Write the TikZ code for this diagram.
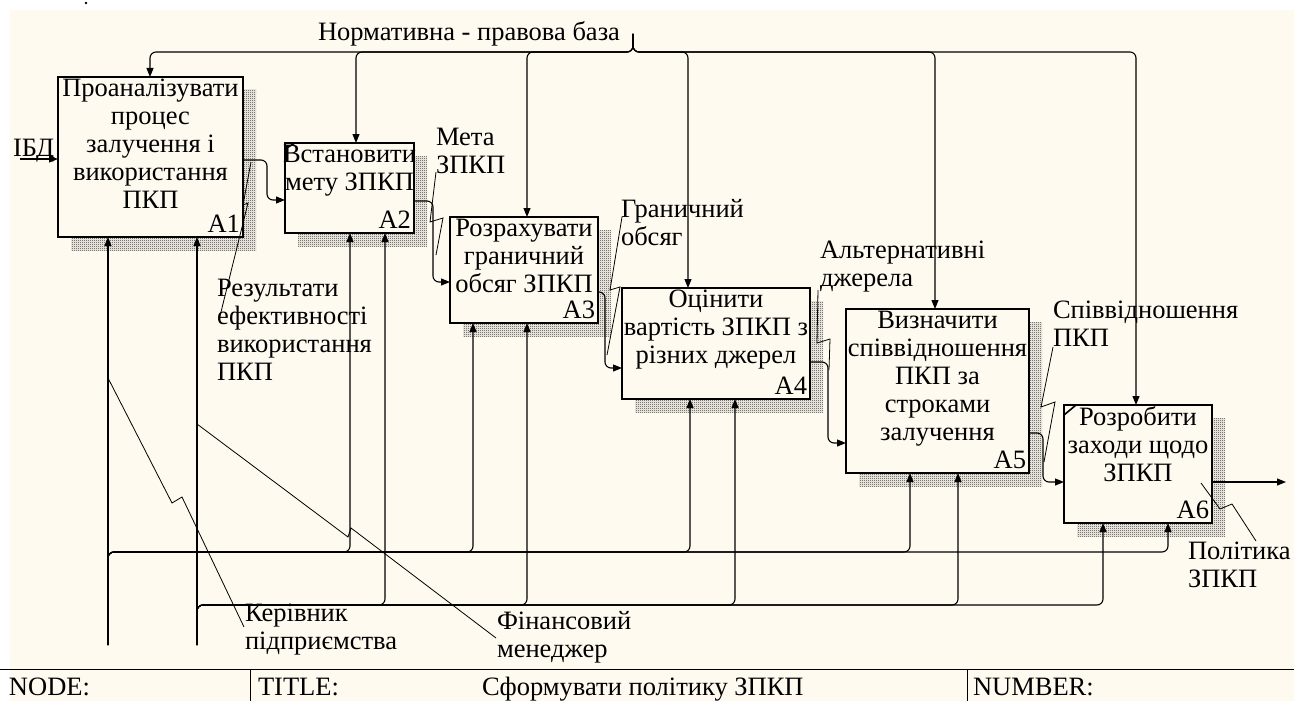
\documentclass[tikz,border=0pt]{standalone}
\usepackage{fontspec}
\setmainfont{Liberation Serif}
\usetikzlibrary{arrows.meta,patterns}
\definecolor{cream}{HTML}{FFFAF0}
\pgfdeclarepatternformonly{checker}{\pgfpointorigin}{\pgfpoint{2pt}{2pt}}{\pgfpoint{2pt}{2pt}}{%
  \pgfpathrectangle{\pgfpointorigin}{\pgfpoint{1pt}{1pt}}%
  \pgfpathrectangle{\pgfpoint{1pt}{1pt}}{\pgfpoint{1pt}{1pt}}%
  \pgfusepath{fill}}
\begin{document}
\begin{tikzpicture}[x=1pt,y=-1pt,
  every node/.style={font=\fontsize{26.5}{28}\selectfont, inner sep=0pt, outer sep=0pt},
  fnbox/.style={draw, line width=2.4pt, fill=cream, anchor=north west},
  shadowbox/.style={pattern=checker, pattern color=black!80},
  conn/.style={line width=1.1pt, rounded corners=6pt},
  arr/.style={conn, -{Triangle[length=9pt,width=7pt]}},
  squig/.style={line width=0.8pt},
  lbl/.style={align=left, anchor=north west},
  btxt/.style={align=center, anchor=north},
  anum/.style={anchor=base east},
  corner/.style={line width=1.6pt}
]
\useasboundingbox (0,0) rectangle (1294,701);
\fill[cream] (10,10) rectangle (1294,701);
\fill (86,3) circle (1.3);
% shadows
\fill[shadowbox] (71,90) rectangle (256,250);
\fill[shadowbox] (298,156) rectangle (427,246);
\fill[shadowbox] (463,230) rectangle (611,336);
\fill[shadowbox] (635,301) rectangle (823,412);
\fill[shadowbox] (859,322) rectangle (1042,486);
\fill[shadowbox] (1077,418) rectangle (1225,536);
% boxes
\node[fnbox, minimum width=185pt, minimum height=160pt] (A1) at (58,77) {};
\node[fnbox, minimum width=129pt, minimum height=90pt] (A2) at (285,143) {};
\node[fnbox, minimum width=148pt, minimum height=106pt] (A3) at (450,217) {};
\node[fnbox, minimum width=188pt, minimum height=111pt] (A4) at (622,288) {};
\node[fnbox, minimum width=183pt, minimum height=164pt] (A5) at (846,309) {};
\node[fnbox, minimum width=148pt, minimum height=118pt] (A6) at (1064,405) {};
\draw[corner] ([yshift=-6pt]A2.north west) -- ([xshift=10pt]A2.north west);
\draw[corner] ([yshift=-10pt]A6.north west) -- ([xshift=12pt]A6.north west);
% box texts
\node[btxt] (t1) at ([yshift=-2pt]A1.north) {Проаналізувати\\процес\\залучення і\\використання\\ПКП};
\node[btxt] (t2) at ([yshift=-2pt]A2.north) {Встановити\\мету ЗПКП};
\node[btxt] (t3) at ([yshift=-2pt]A3.north) {Розрахувати\\граничний\\обсяг ЗПКП};
\node[btxt] (t4) at ([yshift=-2pt]A4.north) {Оцінити\\вартість ЗПКП з\\різних джерел};
\node[btxt] (t5) at ([yshift=-2pt]A5.north) {Визначити\\співвідношення\\ПКП за\\строками\\залучення};
\node[btxt] (t6) at ([yshift=-2pt]A6.north) {Розробити\\заходи щодо\\ЗПКП};
\foreach \b in {A1,A2,A3,A4,A5,A6}
  \node[anum] (n\b) at ([xshift=-3pt,yshift=5pt]\b.south east) {\b};
% controls
\node[anchor=base] (ctl) at (469,41) {Нормативна - правова база};
\coordinate (nb) at (633,34);
\foreach \b/\x in {A1/150, A2/356, A3/527, A4/688, A5/935, A6/1136}
  \draw[arr] (nb) -- (633,52) -- (\x,52) -- (\b.north -| \x,0);
% input
\node[anchor=base west] (ibd) at (13,156) {ІБД};
\coordinate (in1) at (20,159);
\draw[arr] (in1) -- (A1.west |- 0,159);
% outputs
\draw[arr] (A1.east |- 0,160) -- (267,160) -- (267,200) -- (A2.west |- 0,200);
\draw[arr] (A2.east |- 0,201) -- (433,201) -- (433,282) -- (A3.west |- 0,282);
\draw[arr] (A3.east |- 0,292) -- (605,292) -- (605,368) -- (A4.west |- 0,368);
\draw[arr] (A4.east |- 0,362) -- (828,362) -- (828,443) -- (A5.west |- 0,443);
\draw[arr] (A5.east |- 0,433) -- (1043,433) -- (1043,482) -- (A6.west |- 0,482);
\coordinate (out6) at (1286,482);
\draw[arr] (A6.east |- 0,482) -- (out6);
% mechanisms
\coordinate (m1) at (108,645);
\coordinate (m2) at (197,645);
\draw[arr] (m1) -- (A1.south -| 108,0);
\foreach \b/\x in {A2/350, A3/473, A4/690, A5/910, A6/1168}
  \draw[arr] (m1) -- (108,552) -- (\x,552) -- (\b.south -| \x,0);
\draw[arr] (m2) -- (A1.south -| 197,0);
\foreach \b/\x in {A2/385, A3/527, A4/735, A5/958, A6/1103}
  \draw[arr] (m2) -- (197,605) -- (\x,605) -- (\b.south -| \x,0);
% arrow labels
\node[lbl] (l1) at (217,279) {Результати\\ефективності\\використання\\ПКП};
\node[lbl] (l2) at (436,128) {Мета\\ЗПКП};
\node[lbl] (l3) at (621,199) {Граничний\\обсяг};
\node[lbl] (l4) at (820,241) {Альтернативні\\джерела};
\node[lbl] (l5) at (1053,301) {Співвідношення\\ПКП};
\node[lbl] (l6) at (1188,542) {Політика\\ЗПКП};
\node[lbl] (l7) at (245,604) {Керівник\\підприємства};
\node[lbl] (l8) at (497,611) {Фінансовий\\менеджер};
% squiggles
\draw[squig] (251,162) -- (243,205) -- (248,203) -- (219,320);
\draw[squig] (436,172) -- (430,222) -- (443,218) -- (436,255);
\draw[squig] (622,217) -- (610,290) -- (620,287) -- (607,355);
\draw[squig] (818,290) -- (817,343) -- (830,339) -- (829,370);
\draw[squig] (1053,347) -- (1041,407) -- (1055,402) -- (1044,462);
\draw[squig] (1201,483) -- (1220,509) -- (1232,504) -- (1256,541);
\draw[squig] (108,378) -- (172,503) -- (182,497) -- (244,627);
\draw[squig] (197,424) -- (348,537) -- (351,528) -- (496,638);
% table
\draw[line width=1pt] (0,669) -- (1294,669);
\draw[line width=1pt] (250,669) -- (250,701);
\draw[line width=1pt] (967,669) -- (967,701);
\node[anchor=base west] (tn) at (9,695) {NODE:};
\node[anchor=base west] (tt) at (258,695) {TITLE:};
\node[anchor=base west] (tf) at (482,695) {Сформувати політику ЗПКП};
\node[anchor=base west] (tu) at (973,695) {NUMBER:};
\end{tikzpicture}
\end{document}
